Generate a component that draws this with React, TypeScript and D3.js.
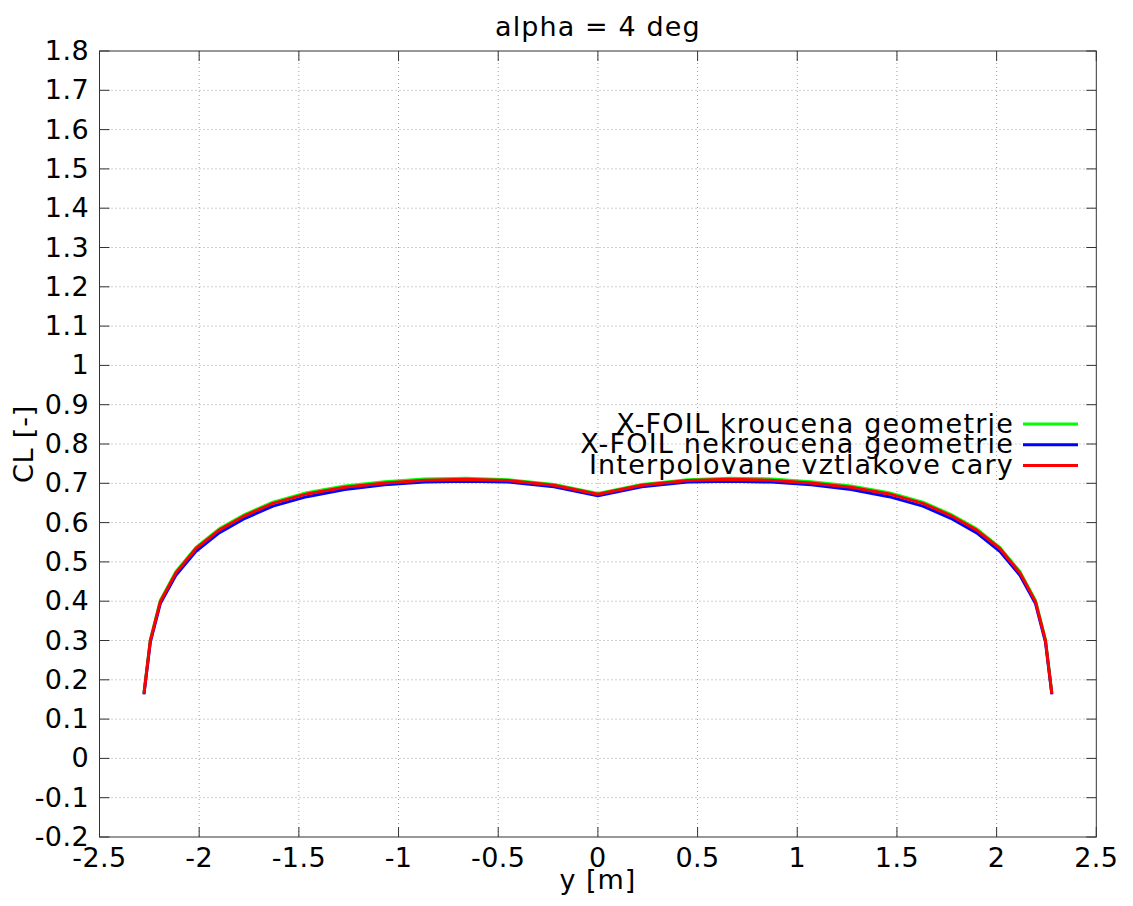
import React from "react";
import * as d3 from "d3";

// Spanwise stations (m) and lift coefficient for each method
const spanStations = [
  -2.277, -2.245, -2.195, -2.117, -2.016, -1.9, -1.77, -1.63, -1.46, -1.27, -1.07, -0.87, -0.66, -0.45, -0.22, 0,
  0.22, 0.45, 0.66, 0.87, 1.07, 1.27, 1.46, 1.63, 1.77, 1.9, 2.016, 2.117, 2.195, 2.245, 2.277,
];

const clTwisted = [
  0.167, 0.302, 0.402, 0.475, 0.537, 0.584, 0.621, 0.652, 0.676, 0.693, 0.704, 0.711, 0.713, 0.709, 0.697, 0.674,
  0.697, 0.709, 0.713, 0.711, 0.704, 0.693, 0.676, 0.652, 0.621, 0.584, 0.537, 0.475, 0.402, 0.302, 0.167,
];

const clUntwisted = [
  0.163, 0.296, 0.394, 0.466, 0.527, 0.574, 0.611, 0.642, 0.666, 0.684, 0.696, 0.703, 0.705, 0.703, 0.691, 0.668,
  0.691, 0.703, 0.705, 0.703, 0.696, 0.684, 0.666, 0.642, 0.611, 0.574, 0.527, 0.466, 0.394, 0.296, 0.163,
];

const clInterpolated = [
  0.165, 0.3, 0.399, 0.472, 0.534, 0.581, 0.618, 0.649, 0.673, 0.69, 0.701, 0.708, 0.71, 0.707, 0.695, 0.672,
  0.695, 0.707, 0.71, 0.708, 0.701, 0.69, 0.673, 0.649, 0.618, 0.581, 0.534, 0.472, 0.399, 0.3, 0.165,
];

const xTicks = [-2.5, -2, -1.5, -1, -0.5, 0, 0.5, 1, 1.5, 2, 2.5];
const yTicks = d3.range(-2, 19).map((v) => v / 10);

const seriesNames = ["X-FOIL kroucena geometrie", "X-FOIL nekroucena geometrie", "Interpolovane vztlakove cary"];
const seriesColors = ["#00ff00", "#0000ff", "#ff0000"];
const seriesValues = [clTwisted, clUntwisted, clInterpolated];

const W = 1133;
const H = 906;
const left = 99.5;
const right = 1096.3;
const top = 51;
const bottom = 837;
const FONT = "'DejaVu Sans', sans-serif";

export default function App() {
  const x = d3.scaleLinear().domain([-2.5, 2.5]).range([left, right]);
  const y = d3.scaleLinear().domain([-0.2, 1.8]).range([bottom, top]);

  const fmt = (v: number) => String(Math.round(v * 10) / 10);

  const lines = seriesValues.map((vals) =>
    d3
      .line<number>()
      .x((_, i) => x(spanStations[i]))
      .y((v) => y(v))(vals) as string
  );

  const tick = 10;

  return (
    <svg
      width={W}
      height={H}
      style={{ position: "absolute", left: 0, top: 0, background: "#fff" }}
      fontFamily={FONT}
    >
      {/* grid */}
      <g stroke="#a0a0a0" strokeWidth={1} strokeDasharray="1,3">
        {xTicks.slice(1, -1).map((t) => (
          <line key={"gx" + t} x1={x(t)} x2={x(t)} y1={top} y2={bottom} />
        ))}
        {yTicks.slice(1, -1).map((t) => (
          <line key={"gy" + t} x1={left} x2={right} y1={y(t)} y2={y(t)} />
        ))}
      </g>

      {/* tick marks on all four sides */}
      <g stroke="#333" strokeWidth={1}>
        {xTicks.map((t) => (
          <g key={"tx" + t}>
            <line x1={x(t)} x2={x(t)} y1={bottom} y2={bottom - tick} />
            <line x1={x(t)} x2={x(t)} y1={top} y2={top + tick} />
          </g>
        ))}
        {yTicks.map((t) => (
          <g key={"ty" + t}>
            <line x1={left} x2={left + tick} y1={y(t)} y2={y(t)} />
            <line x1={right} x2={right - tick} y1={y(t)} y2={y(t)} />
          </g>
        ))}
      </g>

      {/* frame */}
      <rect x={left} y={top} width={right - left} height={bottom - top} fill="none" stroke="#333" strokeWidth={1} />

      {/* tick labels */}
      <g fontSize={27} fill="#000" letterSpacing={0.4}>
        {xTicks.map((t) => (
          <text key={"lx" + t} x={x(t)} y={867} textAnchor="middle">
            {fmt(t)}
          </text>
        ))}
        {yTicks.map((t) => (
          <text key={"ly" + t} x={89} y={y(t) + 9} textAnchor="end">
            {fmt(t)}
          </text>
        ))}
      </g>

      {/* series */}
      {lines.map((d, i) => (
        <path key={"s" + i} d={d} fill="none" stroke={seriesColors[i]} strokeWidth={3} strokeLinejoin="round" />
      ))}

      {/* legend */}
      <g fontSize={27} fill="#000" letterSpacing={1.2}>
        {seriesNames.map((n, i) => (
          <g key={"lg" + i}>
            <text x={1014} y={424 + i * 20.8 + 8.5} textAnchor="end">
              {n}
            </text>
            <line
              x1={1023}
              x2={1078}
              y1={424 + i * 20.8}
              y2={424 + i * 20.8}
              stroke={seriesColors[i]}
              strokeWidth={3}
            />
          </g>
        ))}
      </g>

      {/* titles */}
      <text x={(left + right) / 2} y={36} fontSize={27} letterSpacing={1.1} textAnchor="middle">
        alpha = 4 deg
      </text>
      <text x={(left + right) / 2} y={889} fontSize={27} letterSpacing={1} textAnchor="middle">
        y [m]
      </text>
      <text
        transform={`translate(33, ${(top + bottom) / 2}) rotate(-90)`}
        fontSize={27}
        letterSpacing={0.8}
        textAnchor="middle"
      >
        CL [-]
      </text>
    </svg>
  );
}
